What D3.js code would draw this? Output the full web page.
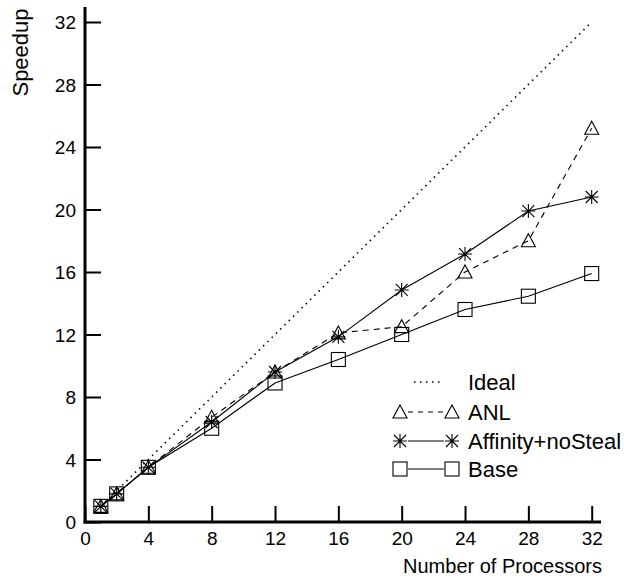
<!DOCTYPE html>
<html><head><meta charset="utf-8">
<script src="https://cdn.jsdelivr.net/npm/d3@7"></script>
<style>body{margin:0;background:#fff}svg{display:block}text{font-family:"Liberation Sans",Arial,sans-serif;fill:#000}</style>
</head><body><svg id="c" width="624" height="580"></svg>
<script>
const procs = [1, 2, 4, 8, 12, 16, 20, 24, 28, 32];
const ideal = [1, 32];
const idealX = [1, 32];
const anl = [1, 1.8, 3.5, 6.7, 9.6, 12.1, 12.5, 16.0, 18.0, 25.2];
const affinity = [1, 1.8, 3.5, 6.4, 9.6, 11.85, 14.85, 17.15, 19.9, 20.8];
const base = [1, 1.8, 3.5, 6.0, 8.9, 10.4, 12.0, 13.6, 14.45, 15.9];
const ticks = [0, 4, 8, 12, 16, 20, 24, 28, 32];
const legendLabels = ["Ideal", "ANL", "Affinity+noSteal", "Base"];

const svg = d3.select("#c");
const x = d3.scaleLinear().domain([0, 32]).range([85, 591.7]);
const y = d3.scaleLinear().domain([0, 32]).range([522, 22]);

// axes
const xAxis = d3.axisBottom(x).tickValues(ticks).tickSize(-16).tickPadding(6).tickFormat(d3.format("d"));
const yAxis = d3.axisLeft(y).tickValues(ticks).tickSize(-16).tickPadding(9).tickFormat(d3.format("d"));
const gx = svg.append("g").attr("transform", "translate(0,522)").call(xAxis);
const gy = svg.append("g").attr("transform", "translate(85,0)").call(yAxis);
[gx, gy].forEach(g => {
  g.select(".domain").remove();
  g.selectAll(".tick line").attr("stroke", "#000").attr("stroke-width", 2);
  g.selectAll(".tick text").attr("font-size", 19).attr("fill", "#000").style("font-family", '"Liberation Sans",Arial,sans-serif');
});
gx.selectAll(".tick text").attr("dy", null).attr("y", 23);
gy.selectAll(".tick text").attr("dy", "0.35em");
svg.append("line").attr("x1", 85).attr("x2", 85).attr("y1", 523.5).attr("y2", 7).attr("stroke", "#000").attr("stroke-width", 3);
svg.append("line").attr("x1", 83.5).attr("x2", 601).attr("y1", 522).attr("y2", 522).attr("stroke", "#000").attr("stroke-width", 3);

svg.append("text").attr("transform", "translate(28,52.5) rotate(-90)").attr("text-anchor", "middle").attr("font-size", 22).text("Speedup");
svg.append("text").attr("x", 602).attr("y", 573).attr("text-anchor", "end").attr("font-size", 20).text("Number of Processors");

// markers
function triangle(g, cx, cy) {
  const s = 7;
  g.append("path").attr("d", `M${cx},${cy - s}L${cx + s},${cy + s * 0.85}L${cx - s},${cy + s * 0.85}Z`)
    .attr("fill", "none").attr("stroke", "#000").attr("stroke-width", 1.1);
}
function square(g, cx, cy) {
  const s = 7;
  g.append("rect").attr("x", cx - s).attr("y", cy - s).attr("width", 2 * s).attr("height", 2 * s)
    .attr("fill", "none").attr("stroke", "#000").attr("stroke-width", 1.1);
}
function star(g, cx, cy) {
  const s = 7, d = 6;
  g.append("path").attr("d", `M${cx},${cy - s}V${cy + s}M${cx - s},${cy}H${cx + s}M${cx - d},${cy - d}L${cx + d},${cy + d}M${cx - d},${cy + d}L${cx + d},${cy - d}`)
    .attr("fill", "none").attr("stroke", "#000").attr("stroke-width", 1.1);
}

const line = d3.line().x(d => x(d[0])).y(d => y(d[1]));
// ideal
svg.append("path").attr("d", line(idealX.map((v, i) => [v, ideal[i]])))
  .attr("fill", "none").attr("stroke", "#000").attr("stroke-width", 1.6).attr("stroke-dasharray", "1.5,4.5");

const series = [
  {vals: anl, dash: "6,5", mk: triangle},
  {vals: affinity, dash: null, mk: star},
  {vals: base, dash: null, mk: square}
];
series.forEach(s => {
  svg.append("path").attr("d", line(procs.map((p, i) => [p, s.vals[i]])))
    .attr("fill", "none").attr("stroke", "#000").attr("stroke-width", 1.1).attr("stroke-dasharray", s.dash);
});
series.forEach(s => {
  const g = svg.append("g");
  procs.forEach((p, i) => s.mk(g, x(p), y(s.vals[i])));
});

// legend
const rowsY = [382, 412, 441, 469];
const lg = svg.append("g");
lg.append("line").attr("x1", 414).attr("x2", 443).attr("y1", rowsY[0]).attr("y2", rowsY[0])
  .attr("stroke", "#000").attr("stroke-width", 1.6).attr("stroke-dasharray", "1.5,4.5");
series.forEach((s, i) => {
  const yy = rowsY[i + 1];
  lg.append("line").attr("x1", 408).attr("x2", 444).attr("y1", yy).attr("y2", yy)
    .attr("stroke", "#000").attr("stroke-width", 1.1).attr("stroke-dasharray", s.dash ? "5,5" : null);
  s.mk(lg, 400, yy);
  s.mk(lg, 452, yy);
});
legendLabels.forEach((t, i) => {
  lg.append("text").attr("x", 468).attr("y", rowsY[i]).attr("dy", "0.36em").attr("font-size", 22).text(t);
});
</script></body></html>
